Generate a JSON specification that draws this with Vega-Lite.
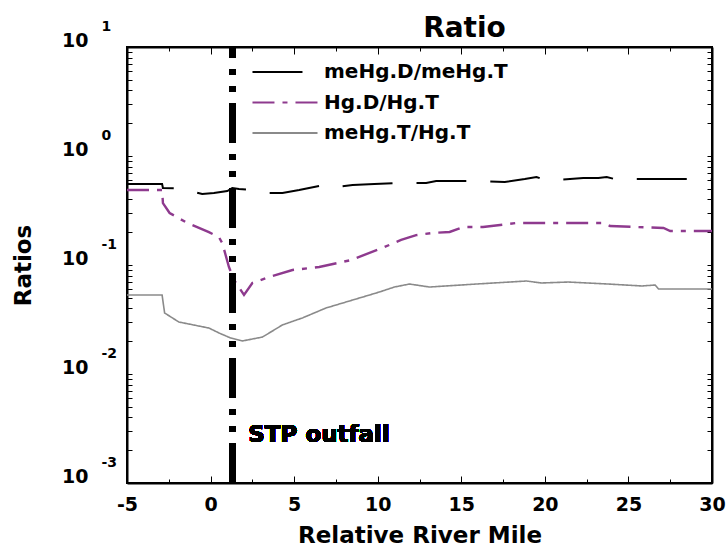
{
  "$schema": "https://vega.github.io/schema/vega-lite/v6.json",
  "width": 585,
  "height": 436,
  "padding": {"left": 12, "top": 15, "right": 0, "bottom": 0},
  "background": "white",
  "view": {"stroke": "black", "strokeWidth": 2},
  "config": {
    "font": "DejaVu Sans",
    "view": {"stroke": "black", "strokeWidth": 2},
    "axis": {"grid": false, "labelColor": "black", "titleColor": "black", "labelFont": "DejaVu Sans", "labelFontWeight": "bold", "titleFont": "DejaVu Sans", "titleFontWeight": "bold"}
  },
  "title": {"text": "Ratio", "fontSize": 28, "font": "DejaVu Sans", "fontWeight": "bold", "anchor": "middle", "dx": 45, "offset": -24, "color": "black"},
  "datasets": {
    "ratios": [
      {"series": "meHg.D/meHg.T", "x": -5, "y": 0.553},
      {"series": "meHg.D/meHg.T", "x": -2.9, "y": 0.553},
      {"series": "meHg.D/meHg.T", "x": -2.85, "y": 0.508},
      {"series": "meHg.D/meHg.T", "x": -1.9, "y": 0.505},
      {"series": "meHg.D/meHg.T", "x": -0.5, "y": 0.448},
      {"series": "meHg.D/meHg.T", "x": 0.2, "y": 0.458},
      {"series": "meHg.D/meHg.T", "x": 1.0, "y": 0.477},
      {"series": "meHg.D/meHg.T", "x": 1.3, "y": 0.508},
      {"series": "meHg.D/meHg.T", "x": 1.7, "y": 0.498},
      {"series": "meHg.D/meHg.T", "x": 2.6, "y": 0.487},
      {"series": "meHg.D/meHg.T", "x": 3.5, "y": 0.458},
      {"series": "meHg.D/meHg.T", "x": 4.3, "y": 0.458},
      {"series": "meHg.D/meHg.T", "x": 5.3, "y": 0.487},
      {"series": "meHg.D/meHg.T", "x": 6.5, "y": 0.53},
      {"series": "meHg.D/meHg.T", "x": 6.9, "y": 0.508},
      {"series": "meHg.D/meHg.T", "x": 8.5, "y": 0.542},
      {"series": "meHg.D/meHg.T", "x": 9.8, "y": 0.553},
      {"series": "meHg.D/meHg.T", "x": 11.3, "y": 0.565},
      {"series": "meHg.D/meHg.T", "x": 12.9, "y": 0.565},
      {"series": "meHg.D/meHg.T", "x": 13.5, "y": 0.59},
      {"series": "meHg.D/meHg.T", "x": 15.9, "y": 0.59},
      {"series": "meHg.D/meHg.T", "x": 17.6, "y": 0.577},
      {"series": "meHg.D/meHg.T", "x": 18.8, "y": 0.615},
      {"series": "meHg.D/meHg.T", "x": 19.5, "y": 0.642},
      {"series": "meHg.D/meHg.T", "x": 20.0, "y": 0.602},
      {"series": "meHg.D/meHg.T", "x": 20.7, "y": 0.602},
      {"series": "meHg.D/meHg.T", "x": 22.3, "y": 0.628},
      {"series": "meHg.D/meHg.T", "x": 23.2, "y": 0.628},
      {"series": "meHg.D/meHg.T", "x": 23.7, "y": 0.642},
      {"series": "meHg.D/meHg.T", "x": 24.4, "y": 0.602},
      {"series": "meHg.D/meHg.T", "x": 25.3, "y": 0.615},
      {"series": "meHg.D/meHg.T", "x": 27.0, "y": 0.615},
      {"series": "meHg.D/meHg.T", "x": 30, "y": 0.615},
      {"series": "Hg.D/Hg.T", "x": -5, "y": 0.487},
      {"series": "Hg.D/Hg.T", "x": -2.9, "y": 0.487},
      {"series": "Hg.D/Hg.T", "x": -2.85, "y": 0.37},
      {"series": "Hg.D/Hg.T", "x": -2.45, "y": 0.3},
      {"series": "Hg.D/Hg.T", "x": -1.5, "y": 0.248},
      {"series": "Hg.D/Hg.T", "x": -0.1, "y": 0.2},
      {"series": "Hg.D/Hg.T", "x": 0.5, "y": 0.18},
      {"series": "Hg.D/Hg.T", "x": 0.7, "y": 0.159},
      {"series": "Hg.D/Hg.T", "x": 1.1, "y": 0.0958},
      {"series": "Hg.D/Hg.T", "x": 1.4, "y": 0.0729},
      {"series": "Hg.D/Hg.T", "x": 2.0, "y": 0.0531},
      {"series": "Hg.D/Hg.T", "x": 2.5, "y": 0.0684},
      {"series": "Hg.D/Hg.T", "x": 3.5, "y": 0.0776},
      {"series": "Hg.D/Hg.T", "x": 4.9, "y": 0.09},
      {"series": "Hg.D/Hg.T", "x": 6.5, "y": 0.0958},
      {"series": "Hg.D/Hg.T", "x": 8.4, "y": 0.111},
      {"series": "Hg.D/Hg.T", "x": 10.4, "y": 0.146},
      {"series": "Hg.D/Hg.T", "x": 11.4, "y": 0.17},
      {"series": "Hg.D/Hg.T", "x": 12.3, "y": 0.188},
      {"series": "Hg.D/Hg.T", "x": 13.3, "y": 0.197},
      {"series": "Hg.D/Hg.T", "x": 14.3, "y": 0.201},
      {"series": "Hg.D/Hg.T", "x": 15.1, "y": 0.223},
      {"series": "Hg.D/Hg.T", "x": 16.3, "y": 0.223},
      {"series": "Hg.D/Hg.T", "x": 18.3, "y": 0.243},
      {"series": "Hg.D/Hg.T", "x": 20.5, "y": 0.243},
      {"series": "Hg.D/Hg.T", "x": 22.7, "y": 0.243},
      {"series": "Hg.D/Hg.T", "x": 23.5, "y": 0.243},
      {"series": "Hg.D/Hg.T", "x": 23.9, "y": 0.228},
      {"series": "Hg.D/Hg.T", "x": 25.5, "y": 0.223},
      {"series": "Hg.D/Hg.T", "x": 27.1, "y": 0.2185},
      {"series": "Hg.D/Hg.T", "x": 27.5, "y": 0.205},
      {"series": "Hg.D/Hg.T", "x": 30, "y": 0.205},
      {"series": "meHg.T/Hg.T", "x": -5, "y": 0.0531},
      {"series": "meHg.T/Hg.T", "x": -2.9, "y": 0.0531},
      {"series": "meHg.T/Hg.T", "x": -2.75, "y": 0.0363},
      {"series": "meHg.T/Hg.T", "x": -1.9, "y": 0.03},
      {"series": "meHg.T/Hg.T", "x": -0.1, "y": 0.0264},
      {"series": "meHg.T/Hg.T", "x": 0.5, "y": 0.0238},
      {"series": "meHg.T/Hg.T", "x": 1.2, "y": 0.0214},
      {"series": "meHg.T/Hg.T", "x": 1.9, "y": 0.0201},
      {"series": "meHg.T/Hg.T", "x": 3.1, "y": 0.0218},
      {"series": "meHg.T/Hg.T", "x": 4.3, "y": 0.0282},
      {"series": "meHg.T/Hg.T", "x": 5.5, "y": 0.0327},
      {"series": "meHg.T/Hg.T", "x": 6.9, "y": 0.0403},
      {"series": "meHg.T/Hg.T", "x": 8.5, "y": 0.0477},
      {"series": "meHg.T/Hg.T", "x": 10.1, "y": 0.0565},
      {"series": "meHg.T/Hg.T", "x": 11.0, "y": 0.0628},
      {"series": "meHg.T/Hg.T", "x": 11.9, "y": 0.0669},
      {"series": "meHg.T/Hg.T", "x": 13.1, "y": 0.0628},
      {"series": "meHg.T/Hg.T", "x": 15.9, "y": 0.0669},
      {"series": "meHg.T/Hg.T", "x": 18.9, "y": 0.0713},
      {"series": "meHg.T/Hg.T", "x": 19.8, "y": 0.0684},
      {"series": "meHg.T/Hg.T", "x": 21.4, "y": 0.0698},
      {"series": "meHg.T/Hg.T", "x": 23.8, "y": 0.0669},
      {"series": "meHg.T/Hg.T", "x": 25.8, "y": 0.0642},
      {"series": "meHg.T/Hg.T", "x": 26.6, "y": 0.0655},
      {"series": "meHg.T/Hg.T", "x": 26.8, "y": 0.0602},
      {"series": "meHg.T/Hg.T", "x": 30, "y": 0.0602}
    ]
  },
  "data": {"name": "ratios"},
  "resolve": {"axis": {"x": "independent", "y": "independent"}},
  "layer": [
    {
      "transform": [{"filter": "datum.series === 'meHg.D/meHg.T'"}],
      "mark": {"type": "line", "strokeWidth": 2},
      "encoding": {
        "x": {"field": "x", "type": "quantitative", "scale": {"domain": [-5, 30], "nice": false, "zero": false},
          "axis": {"orient": "bottom", "values": [-5, 0, 5, 10, 15, 20, 25, 30], "labelExpr": "'' + datum.value", "ticks": false, "domain": true, "domainColor": "black", "domainWidth": 2, "labelFontSize": 19, "labelPadding": 12, "labelFlush": false, "title": "Relative River Mile", "titleFontSize": 23, "titlePadding": 10}},
        "y": {"field": "y", "type": "quantitative", "scale": {"type": "log", "domain": [0.001, 10], "nice": false},
          "axis": {"orient": "left", "values": [0.001, 0.01, 0.1, 1, 10], "labelExpr": "'10'", "ticks": false, "domain": true, "domainColor": "black", "domainWidth": 2, "labelFontSize": 19, "labelPadding": 39, "labelOffset": -7, "labelBaseline": "middle", "labelFlush": false, "title": "Ratios", "titleFontSize": 23, "titleX": -104, "titleY": 218, "titleAngle": -90, "titleAlign": "center", "titleBaseline": "middle"}},
        "color": {"field": "series", "type": "nominal",
          "scale": {"domain": ["meHg.D/meHg.T", "Hg.D/Hg.T", "meHg.T/Hg.T"], "range": ["#000000", "#8e3a8e", "#8a8a8a"]},
          "legend": {"orient": "none", "legendX": 146, "legendY": 13, "title": null, "padding": 0, "symbolType": "M-3,0H3", "symbolSize": 470, "symbolStrokeWidth": 2, "labelFont": "DejaVu Sans", "labelFontWeight": "bold", "labelFontSize": 20, "labelColor": "black", "labelOffset": 27, "labelLimit": 400, "rowPadding": 8.5,
            "encode": {"symbols": {"update": {"strokeDash": {"signal": "datum.value === 'meHg.D/meHg.T' ? [20,14] : datum.value === 'Hg.D/Hg.T' ? [14,4,3,4,3,4] : [1,0]"}}}}}},
        "strokeDash": {"field": "series", "type": "nominal",
          "scale": {"domain": ["meHg.D/meHg.T", "Hg.D/Hg.T", "meHg.T/Hg.T"], "range": [[50, 24], [22, 8, 5, 8], [1, 0]]},
          "legend": {"orient": "none", "legendX": 146, "legendY": 13, "title": null, "padding": 0, "symbolType": "M-3,0H3", "symbolSize": 470, "symbolStrokeWidth": 2, "labelFont": "DejaVu Sans", "labelFontWeight": "bold", "labelFontSize": 20, "labelColor": "black", "labelOffset": 27, "labelLimit": 400, "rowPadding": 8.5,
            "encode": {"symbols": {"update": {"strokeDash": {"signal": "datum.value === 'meHg.D/meHg.T' ? [20,14] : datum.value === 'Hg.D/Hg.T' ? [14,4,3,4,3,4] : [1,0]"}}}}}}
      }
    },
    {
      "transform": [{"filter": "datum.series === 'Hg.D/Hg.T'"}],
      "mark": {"type": "line", "strokeWidth": 2.4},
      "encoding": {
        "x": {"field": "x", "type": "quantitative",
          "axis": {"orient": "top", "values": [-5, 0, 5, 10, 15, 20, 25, 30], "labels": false, "domain": true, "domainColor": "black", "domainWidth": 2, "tickColor": "black", "tickSize": -7, "title": null}},
        "y": {"field": "y", "type": "quantitative",
          "axis": {"orient": "right", "values": [0.001, 0.002, 0.003, 0.004, 0.005, 0.006, 0.007, 0.008, 0.009, 0.01, 0.02, 0.03, 0.04, 0.05, 0.06, 0.07, 0.08, 0.09, 0.1, 0.2, 0.3, 0.4, 0.5, 0.6, 0.7, 0.8, 0.9, 1, 2, 3, 4, 5, 6, 7, 8, 9, 10], "labels": false, "domain": true, "domainColor": "black", "domainWidth": 2, "tickColor": "black", "tickSize": -5, "title": null}},
        "color": {"field": "series", "type": "nominal"},
        "strokeDash": {"field": "series", "type": "nominal"}
      }
    },
    {
      "transform": [{"filter": "datum.series === 'meHg.T/Hg.T'"}],
      "mark": {"type": "line", "strokeWidth": 1.6},
      "encoding": {
        "x": {"field": "x", "type": "quantitative",
          "axis": {"orient": "top", "values": [-2.5, 2.5, 7.5, 12.5, 17.5, 22.5, 27.5], "labels": false, "domain": false, "tickColor": "black", "tickSize": 4, "offset": -4, "title": null}},
        "y": {"field": "y", "type": "quantitative", "axis": null},
        "color": {"field": "series", "type": "nominal"},
        "strokeDash": {"field": "series", "type": "nominal"}
      }
    },
    {
      "mark": {"type": "rule", "strokeWidth": 6, "color": "black", "strokeDash": [40, 11, 6, 11, 6, 11]},
      "encoding": {
        "x": {"datum": 1.3, "type": "quantitative",
          "axis": {"orient": "bottom", "values": [-5, 0, 5, 10, 15, 20, 25, 30], "labels": false, "domain": false, "tickColor": "black", "tickSize": 7, "offset": -7, "title": null}},
        "y": {"datum": 0.001, "type": "quantitative",
          "axis": {"orient": "left", "values": [0.001, 0.01, 0.1, 1, 10], "labelExpr": "'' + round(log(datum.value) / LN10)", "ticks": false, "domain": false, "labelFontSize": 14, "labelAlign": "left", "labelBaseline": "middle", "labelPadding": 26, "labelOffset": -21, "labelFlush": false, "title": null}},
        "y2": {"datum": 10}
      }
    },
    {
      "mark": {"type": "text", "text": "STP outfall", "align": "left", "baseline": "alphabetic", "font": "DejaVu Sans", "fontSize": 23, "fontWeight": "bold", "dx": 16, "color": "black"},
      "encoding": {
        "x": {"datum": 1.3, "type": "quantitative",
          "axis": {"orient": "bottom", "values": [-2.5, 2.5, 7.5, 12.5, 17.5, 22.5, 27.5], "labels": false, "domain": false, "tickColor": "black", "tickSize": 4, "offset": -4, "title": null}},
        "y": {"datum": 0.0024, "type": "quantitative",
          "axis": {"orient": "left", "values": [0.001, 0.002, 0.003, 0.004, 0.005, 0.006, 0.007, 0.008, 0.009, 0.01, 0.02, 0.03, 0.04, 0.05, 0.06, 0.07, 0.08, 0.09, 0.1, 0.2, 0.3, 0.4, 0.5, 0.6, 0.7, 0.8, 0.9, 1, 2, 3, 4, 5, 6, 7, 8, 9, 10], "labels": false, "domain": false, "tickColor": "black", "tickSize": 5, "offset": -5, "title": null}}
      }
    }
  ]
}
